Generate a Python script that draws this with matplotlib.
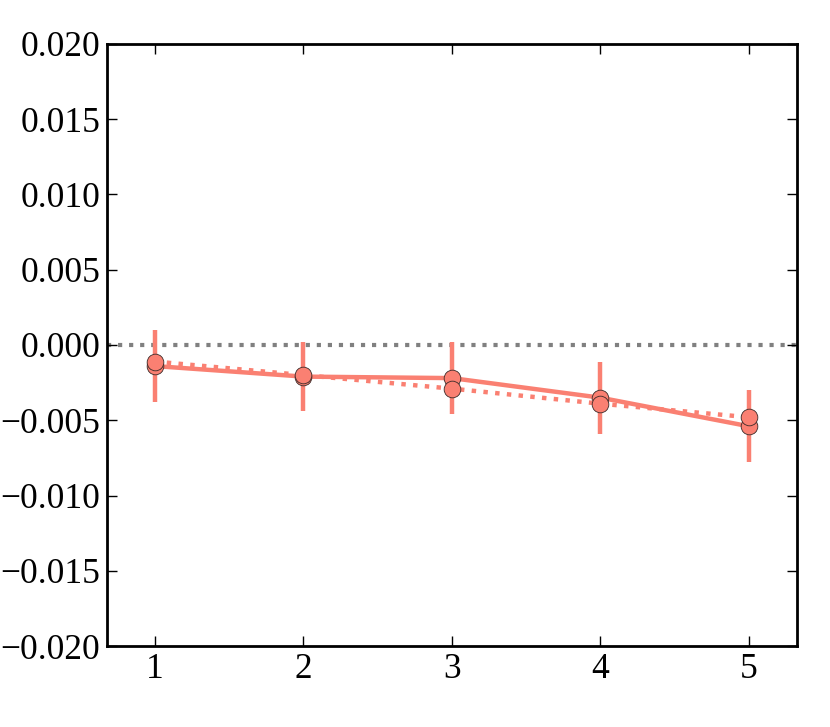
import matplotlib
matplotlib.use("Agg")
import matplotlib.pyplot as plt

# --- DANE ---
x_vals = [1, 2, 3, 4, 5]
solid_vals = [-0.0014, -0.0021, -0.0022, -0.0035, -0.0054]
solid_err = [0.0024, 0.0023, 0.0024, 0.0024, 0.0024]
dotted_vals = [-0.0011, -0.0020, -0.0029, -0.0039, -0.0048]
y_ticks = [-0.020, -0.015, -0.010, -0.005, 0.000, 0.005, 0.010, 0.015, 0.020]

plt.rcParams['font.family'] = ['Liberation Serif', 'DejaVu Serif']
plt.rcParams['axes.unicode_minus'] = True

fig = plt.figure(figsize=(8.3, 7.27), dpi=100)
ax = fig.add_axes([0.129, 0.1114, 0.831, 0.8281])

col = '#FA8072'

# linia odniesienia w zerze
ax.axhline(0, color='gray', linestyle=':', linewidth=3, zorder=1)

# seria ciagla z bledami
ax.errorbar(x_vals, solid_vals, yerr=solid_err, color=col, linewidth=3.2,
            elinewidth=3.2, capsize=0, marker='o', markersize=12,
            markerfacecolor=col, markeredgecolor='#3a2a28', markeredgewidth=0.6,
            zorder=3)

# seria kropkowana
ax.plot(x_vals, dotted_vals, color=col, linestyle=':', linewidth=3.2,
        marker='o', markersize=12, markerfacecolor=col,
        markeredgecolor='#3a2a28', markeredgewidth=0.6, zorder=4)

ax.set_xlim(0.677, 5.323)
ax.set_ylim(-0.020, 0.020)
ax.set_xticks(x_vals)
ax.set_yticks(y_ticks)
ax.set_yticklabels(['%.3f' % v if v >= 0 else '\u2212%.3f' % abs(v) for v in y_ticks])

ax.tick_params(direction='in', length=7, width=1, labelsize=25.5,
               top=True, right=True, pad=5)
for sp in ax.spines.values():
    sp.set_linewidth(2)

fig.savefig('out.png', dpi=100)
